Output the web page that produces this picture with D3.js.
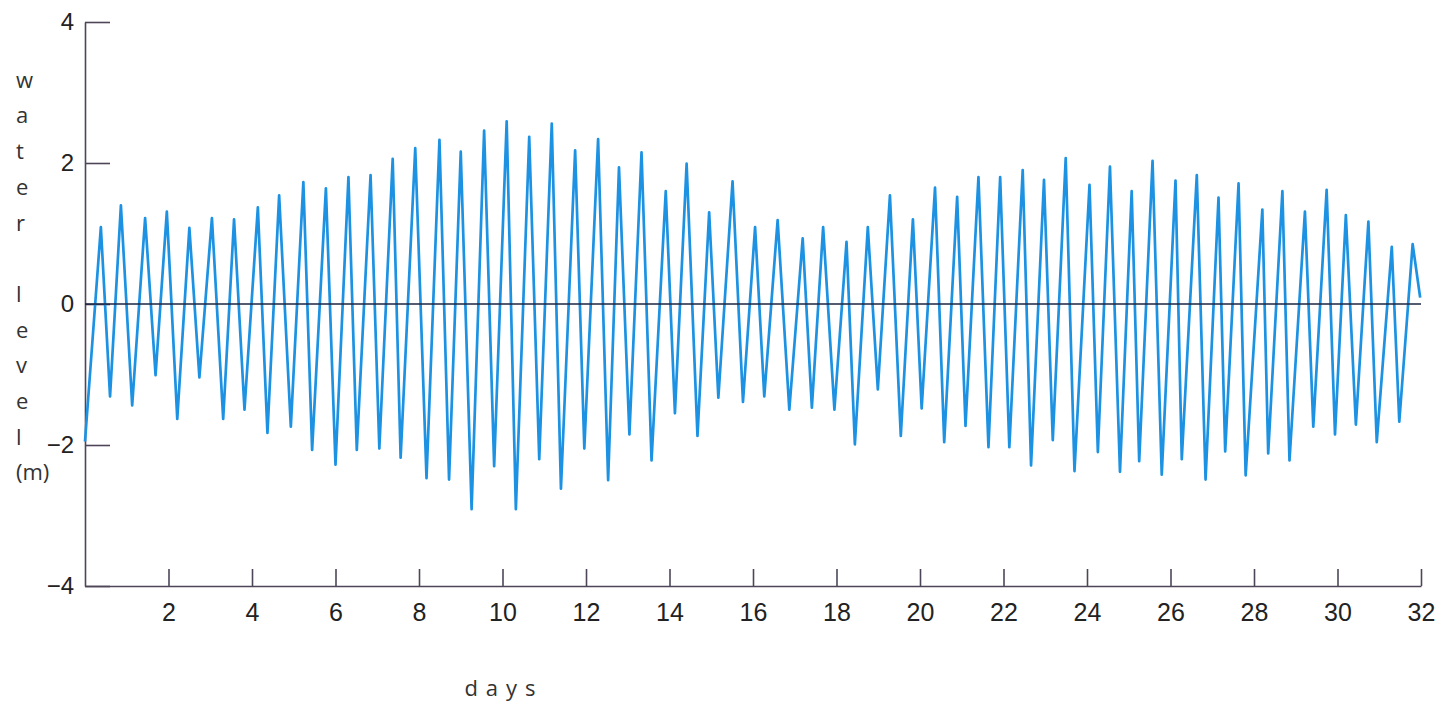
<!DOCTYPE html>
<html lang="en">
<head>
    <meta charset="UTF-8">
    <title>Water level</title>
    <script src="https://cdnjs.cloudflare.com/ajax/libs/d3/7.8.5/d3.min.js"></script>
    <style>
        body { margin: 0; background: #fff; }
        .tick text { font-family: "Liberation Sans", Arial, sans-serif; fill: #222; }
        .ylab { font-family: "Open Sans", sans-serif; font-size: 22px; fill: #333; }
        .xlab { font-family: "Open Sans", sans-serif; font-size: 22px; fill: #333; letter-spacing: 8px; }
    </style>
</head>
<body>
    <div id="chart"></div>

    <script>
        // water level, one point per high / low water
        const days = [0.00, 0.38, 0.60, 0.86, 1.13, 1.44, 1.69, 1.96, 2.21, 2.50,
            2.74, 3.04, 3.31, 3.57, 3.82, 4.14, 4.37, 4.65, 4.93, 5.23,
            5.44, 5.77, 6.00, 6.31, 6.51, 6.84, 7.05, 7.37, 7.56, 7.91,
            8.18, 8.49, 8.72, 9.00, 9.26, 9.56, 9.80, 10.10, 10.32, 10.64,
            10.88, 11.18, 11.40, 11.74, 11.96, 12.29, 12.53, 12.79, 13.04, 13.33,
            13.57, 13.91, 14.13, 14.41, 14.67, 14.95, 15.17, 15.51, 15.76, 16.05,
            16.27, 16.59, 16.87, 17.19, 17.41, 17.68, 17.95, 18.24, 18.44, 18.75,
            18.99, 19.28, 19.54, 19.83, 20.04, 20.36, 20.58, 20.89, 21.09, 21.40,
            21.64, 21.92, 22.14, 22.46, 22.66, 22.97, 23.18, 23.49, 23.70, 24.06,
            24.26, 24.55, 24.79, 25.07, 25.25, 25.57, 25.79, 26.12, 26.27, 26.63,
            26.84, 27.15, 27.31, 27.63, 27.80, 28.20, 28.34, 28.68, 28.85, 29.22,
            29.42, 29.74, 29.94, 30.20, 30.44, 30.74, 30.94, 31.30, 31.48, 31.80,
            31.98];
        const level = [-1.95, 1.09, -1.31, 1.40, -1.44, 1.22, -1.01, 1.31, -1.63, 1.08,
            -1.04, 1.22, -1.63, 1.20, -1.50, 1.37, -1.83, 1.54, -1.74, 1.73,
            -2.07, 1.64, -2.28, 1.80, -2.07, 1.83, -2.05, 2.06, -2.18, 2.21,
            -2.47, 2.33, -2.49, 2.16, -2.91, 2.46, -2.30, 2.59, -2.91, 2.37,
            -2.20, 2.56, -2.62, 2.18, -2.05, 2.34, -2.50, 1.94, -1.85, 2.15,
            -2.22, 1.60, -1.55, 1.99, -1.87, 1.30, -1.33, 1.74, -1.39, 1.09,
            -1.31, 1.19, -1.50, 0.93, -1.47, 1.09, -1.50, 0.88, -1.99, 1.09,
            -1.21, 1.54, -1.87, 1.20, -1.48, 1.65, -1.96, 1.52, -1.73, 1.80,
            -2.03, 1.80, -2.03, 1.90, -2.29, 1.76, -1.93, 2.07, -2.37, 1.69,
            -2.10, 1.95, -2.38, 1.60, -2.23, 2.03, -2.42, 1.75, -2.20, 1.83,
            -2.49, 1.51, -2.09, 1.71, -2.43, 1.34, -2.12, 1.60, -2.22, 1.31,
            -1.74, 1.62, -1.85, 1.26, -1.71, 1.17, -1.96, 0.81, -1.67, 0.85,
            0.09];

        const xTicks = [2, 4, 6, 8, 10, 12, 14, 16, 18, 20, 22, 24, 26, 28, 30, 32];
        const yTicks = [-4, -2, 0, 2, 4];
        const yLetters = ["w", "a", "t", "e", "r", "", "l", "e", "v", "e", "l", "(m)"];

        const width = 1449;
        const height = 706;

        const svg = d3.select("#chart").append("svg")
            .attr("width", width)
            .attr("height", height);

        const x = d3.scaleLinear().domain([0, 32]).range([85, 1421]);
        const y = d3.scaleLinear().domain([-4, 4]).range([586, 22]);

        // axes: ticks point into the plot
        const yAxis = svg.append("g")
            .attr("transform", "translate(" + x(0) + ",0)")
            .call(d3.axisLeft(y).tickValues(yTicks).tickSizeInner(-25).tickSizeOuter(0).tickPadding(11));
        yAxis.selectAll("text").style("font-size", "24px");

        const xAxis = svg.append("g")
            .attr("transform", "translate(0," + y(-4) + ")")
            .call(d3.axisBottom(x).tickValues(xTicks).tickSizeInner(-17).tickSizeOuter(0).tickPadding(17));
        xAxis.selectAll("text").style("font-size", "25px");

        svg.selectAll(".domain, .tick line")
            .attr("stroke", "#4e4658")
            .attr("stroke-width", 1.6);

        // the tide curve
        const line = d3.line()
            .x(function(d, i) { return x(days[i]); })
            .y(function(d) { return y(d); });

        svg.append("path")
            .datum(level)
            .attr("fill", "none")
            .attr("stroke", "#1d92e2")
            .attr("stroke-width", 2.7)
            .attr("stroke-linejoin", "round")
            .attr("d", line);

        // zero line on top
        svg.append("line")
            .attr("x1", x(0))
            .attr("x2", x(32))
            .attr("y1", y(0))
            .attr("y2", y(0))
            .attr("stroke", "#1c2540")
            .attr("stroke-width", 1.6);

        // stacked y label
        svg.selectAll(".ylab")
            .data(yLetters)
            .enter().append("text")
            .attr("class", "ylab")
            .attr("x", 16)
            .attr("y", function(d, i) { return 80 + i * 35.7; })
            .attr("dy", "0.35em")
            .text(function(d) { return d; });

        svg.append("text")
            .attr("class", "xlab")
            .attr("x", 504)
            .attr("y", 696)
            .attr("text-anchor", "middle")
            .text("days");
    </script>
</body>
</html>
